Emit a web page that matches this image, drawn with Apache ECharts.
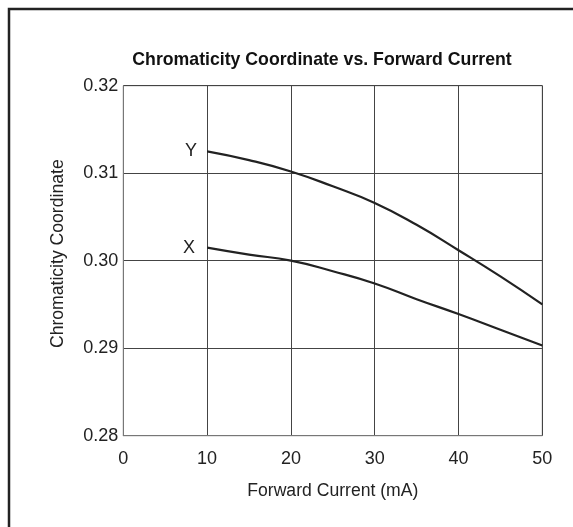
<!DOCTYPE html>
<html>
<head>
<meta charset="utf-8">
<script src="https://cdn.jsdelivr.net/npm/echarts@6/dist/echarts.min.js"></script>
<style>
html,body{margin:0;padding:0;background:#fff;}
#chart{width:573px;height:527px;}
</style>
</head>
<body>
<div id="chart"></div>
<script>
var titleText = 'Chromaticity Coordinate vs. Forward Current';
var xAxisName = 'Forward Current (mA)';
var yAxisName = 'Chromaticity Coordinate';
var current = [10, 15, 20, 25, 30, 35, 40, 45, 50];
var yCoord = [0.3125, 0.3115, 0.3102, 0.3085, 0.3066, 0.3041, 0.3012, 0.2982, 0.2950];
var xCoord = [0.3015, 0.3007, 0.3000, 0.2988, 0.2974, 0.2956, 0.2939, 0.2921, 0.2903];
var seriesNames = ['Y', 'X'];

var font = 'Liberation Sans, Arial, sans-serif';

function buildData(vals, label, dist) {
  return current.map(function (c, i) {
    var item = { value: [c, vals[i]] };
    if (i === 0) {
      item.label = { show: true, formatter: label, position: 'left', distance: dist,
        color: '#222', fontSize: 18, fontFamily: font };
    }
    return item;
  });
}

var chart = echarts.init(document.getElementById('chart'));
chart.setOption({
  backgroundColor: '#fff',
  animation: false,
  graphic: [{
    type: 'rect', silent: true,
    shape: { x: 9, y: 9, width: 800, height: 800 },
    style: { fill: 'none', stroke: '#222', lineWidth: 2.5 }
  }],
  title: {
    text: titleText, left: 317, top: 46, textAlign: 'center',
    textStyle: { fontFamily: font, fontSize: 17.7, fontWeight: 'bold', color: '#111' }
  },
  grid: { left: 123.3, right: 30.7, top: 85.7, bottom: 91.3, containLabel: false,
    show: true, borderColor: '#777', borderWidth: 1 },
  xAxis: {
    type: 'value', min: 0, max: 50, interval: 10,
    name: xAxisName, nameLocation: 'middle', nameGap: 46,
    nameTextStyle: { fontFamily: font, fontSize: 17.6, color: '#222' },
    axisLine: { show: true, lineStyle: { color: '#777', width: 1 } },
    axisTick: { show: false },
    axisLabel: { margin: 14, fontFamily: font, fontSize: 18, color: '#222' },
    splitLine: { show: true, lineStyle: { color: '#444', width: 1 } }
  },
  yAxis: {
    type: 'value', min: 0.28, max: 0.32, interval: 0.01,
    name: yAxisName, nameLocation: 'middle', nameGap: 56, nameRotate: 90,
    nameTextStyle: { fontFamily: font, fontSize: 17.6, color: '#222', padding: [0, 0, 0, 14] },
    axisLine: { show: true, lineStyle: { color: '#777', width: 1 } },
    axisTick: { show: false },
    axisLabel: { margin: 5, fontFamily: font, fontSize: 18, color: '#222',
      formatter: function (v) { return v.toFixed(2); } },
    splitLine: { show: true, lineStyle: { color: '#444', width: 1 } }
  },
  series: [
    { name: seriesNames[0], type: 'line', smooth: 0.5, symbol: 'circle', symbolSize: 0, showSymbol: true,
      data: buildData(yCoord, seriesNames[0], 10),
      lineStyle: { color: '#222', width: 2.2 } },
    { name: seriesNames[1], type: 'line', smooth: 0.5, symbol: 'circle', symbolSize: 0, showSymbol: true,
      data: buildData(xCoord, seriesNames[1], 12),
      lineStyle: { color: '#222', width: 2.2 } }
  ]
});
</script>
</body>
</html>
